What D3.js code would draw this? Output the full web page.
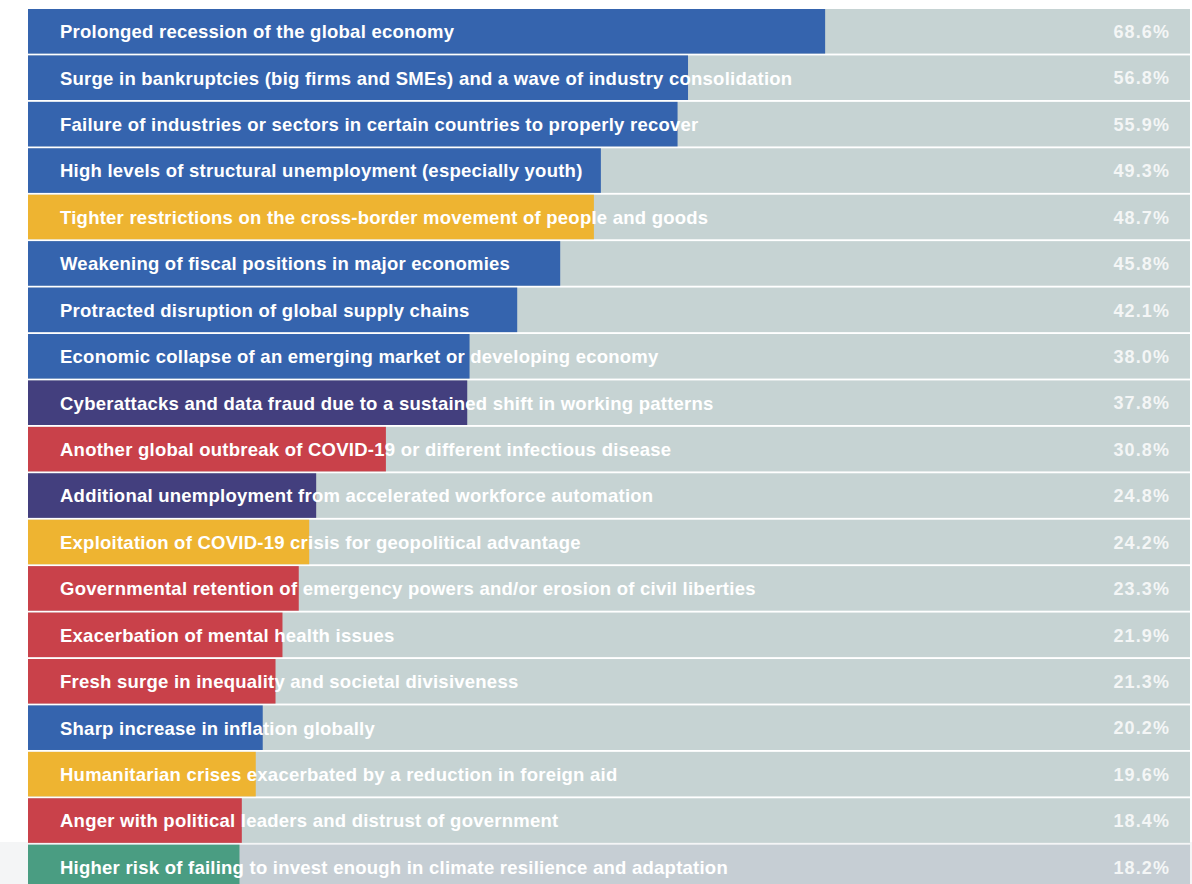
<!DOCTYPE html>
<html><head><meta charset="utf-8">
<script src="https://cdn.jsdelivr.net/npm/d3@7"></script>
<style>html,body{margin:0;padding:0;background:#fff;}svg{display:block;}</style>
</head><body>
<svg id="chart" width="1192" height="884"></svg>
<script>
const categories = [
  "Prolonged recession of the global economy",
  "Surge in bankruptcies (big firms and SMEs) and a wave of industry consolidation",
  "Failure of industries or sectors in certain countries to properly recover",
  "High levels of structural unemployment (especially youth)",
  "Tighter restrictions on the cross-border movement of people and goods",
  "Weakening of fiscal positions in major economies",
  "Protracted disruption of global supply chains",
  "Economic collapse of an emerging market or developing economy",
  "Cyberattacks and data fraud due to a sustained shift in working patterns",
  "Another global outbreak of COVID-19 or different infectious disease",
  "Additional unemployment from accelerated workforce automation",
  "Exploitation of COVID-19 crisis for geopolitical advantage",
  "Governmental retention of emergency powers and/or erosion of civil liberties",
  "Exacerbation of mental health issues",
  "Fresh surge in inequality and societal divisiveness",
  "Sharp increase in inflation globally",
  "Humanitarian crises exacerbated by a reduction in foreign aid",
  "Anger with political leaders and distrust of government",
  "Higher risk of failing to invest enough in climate resilience and adaptation"
];
const values = [68.6, 56.8, 55.9, 49.3, 48.7, 45.8, 42.1, 38.0, 37.8, 30.8, 24.8, 24.2, 23.3, 21.9, 21.3, 20.2, 19.6, 18.4, 18.2];
const groups = ["Economic","Economic","Economic","Economic","Geopolitical","Economic","Economic","Economic","Technological","Societal","Technological","Geopolitical","Societal","Societal","Societal","Economic","Geopolitical","Societal","Environmental"];
const groupNames = ["Economic","Geopolitical","Technological","Societal","Environmental"];
const groupColors = ["#3564ae","#eeb431","#433f7e","#c9414a","#4a9d82"];

const data = categories.map((c,i)=>({name:c, value:values[i], group:groups[i]}));
const svg = d3.select("#chart");
const x = d3.scaleLinear().domain([0,100]).range([28,1190]);
const step = 46.33;
const y = d3.scaleBand().domain(categories).range([9, 9+step*categories.length]).paddingInner(0.04).paddingOuter(0);
const color = d3.scaleOrdinal().domain(groupNames).range(groupColors);

// light strip bottom-left
svg.append("rect").attr("x",0).attr("y",842).attr("width",1192).attr("height",42).attr("fill","#f4f5f6");

const rows = svg.append("g").selectAll("g").data(data).join("g");
rows.append("rect").attr("x",x(0)).attr("y",d=>y(d.name)).attr("width",x(100)-x(0)).attr("height",y.bandwidth())
  .attr("fill",(d,i)=> i===data.length-1 ? "#c6ced4" : "#c6d3d3");
rows.append("rect").attr("x",x(0)).attr("y",d=>y(d.name)).attr("width",d=>x(d.value)-x(0)).attr("height",y.bandwidth())
  .attr("fill",d=>color(d.group));
rows.append("text").attr("x",60).attr("y",d=>y(d.name)+y.bandwidth()/2+2)
  .attr("dominant-baseline","middle")
  .attr("font-family","'Liberation Sans', Arial, Helvetica, sans-serif").attr("font-weight","bold").attr("font-size",18.5)
  .attr("letter-spacing",0.24)
  .attr("fill","#ffffff").text(d=>d.name);
rows.append("text").attr("x",1170).attr("y",d=>y(d.name)+y.bandwidth()/2+2)
  .attr("dominant-baseline","middle").attr("text-anchor","end")
  .attr("font-family","'Liberation Sans', Arial, Helvetica, sans-serif").attr("font-weight","bold").attr("font-size",18)
  .attr("letter-spacing",1.1)
  .attr("fill","#f4f6f6").text(d=>d3.format(".1f")(d.value)+"%");
</script>
</body></html>
